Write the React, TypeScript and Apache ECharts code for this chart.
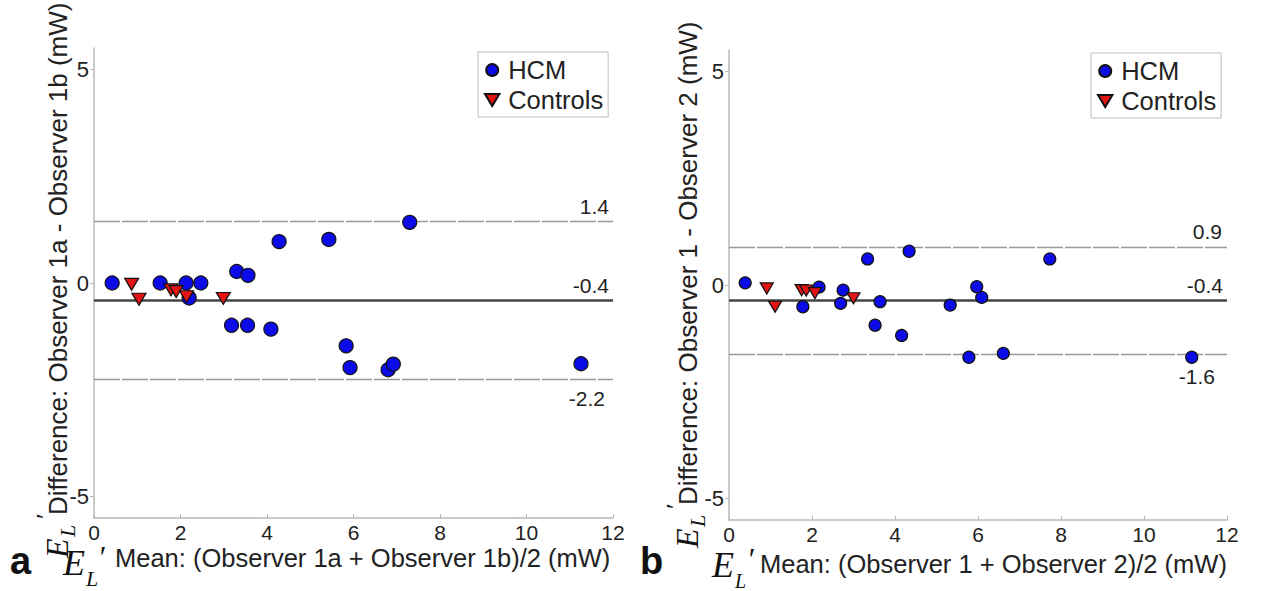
import React, { useEffect, useRef } from "react";
import * as echarts from "echarts";

// ---------- data ----------
const xTicks = [0, 2, 4, 6, 8, 10, 12];
const yTicks = [-5, 0, 5];
const seriesNames = ["HCM", "Controls"];

const leftHCM = [
  [0.42, 0.0], [1.53, 0.0], [2.13, 0.0], [2.47, 0.0], [2.2, -0.35],
  [3.3, 0.27], [3.56, 0.18], [4.28, 0.97], [5.43, 1.02], [7.3, 1.42],
  [3.18, -0.99], [3.55, -0.99], [4.09, -1.08], [5.83, -1.47], [5.92, -1.98],
  [6.8, -2.03], [6.92, -1.9], [11.26, -1.89],
];
const leftControls = [
  [0.87, -0.03], [1.04, -0.38], [1.78, -0.16], [1.9, -0.2], [2.14, -0.32], [2.99, -0.36],
];
const rightHCM = [
  [0.39, 0.05], [2.17, -0.05], [1.78, -0.51], [2.75, -0.12], [2.69, -0.43],
  [3.34, 0.61], [4.34, 0.79], [3.64, -0.39], [3.52, -0.94], [4.16, -1.18],
  [5.97, -0.04], [6.09, -0.29], [5.33, -0.47], [5.78, -1.69], [6.61, -1.6],
  [7.73, 0.61], [11.15, -1.69],
];
const rightControls = [
  [0.91, -0.08], [1.11, -0.51], [1.75, -0.12], [1.86, -0.13], [2.07, -0.19], [3.0, -0.31],
];

const leftLines = [1.44, -0.4, -2.26];
const leftLineLabels = ["1.4", "-0.4", "-2.2"];
const rightLines = [0.89, -0.35, -1.61];
const rightLineLabels = ["0.9", "-0.4", "-1.6"];

const leftXLabel = "Mean: (Observer 1a + Observer 1b)/2 (mW)";
const leftYLabel = "Difference: Observer 1a - Observer 1b (mW)";
const rightXLabel = "Mean: (Observer 1 + Observer 2)/2 (mW)";
const rightYLabel = "Difference: Observer 1 - Observer 2 (mW)";
const panelLetters = ["a", "b"];

// ---------- styles ----------
const FONT = "'Liberation Sans', Arial, sans-serif";
const SERIF = "'Liberation Serif', 'DejaVu Serif', serif";
const TEXT = "#222";
const AXIS = "#b8b8b8";
const TRI = "path://M0,0L12,0L6,10Z";

function scatter(name: string, data: number[][], idx: number, size: number) {
  const isHCM = name === seriesNames[0];
  return {
    type: "scatter",
    name,
    data,
    xAxisIndex: idx,
    yAxisIndex: idx,
    symbol: isHCM ? "circle" : TRI,
    symbolSize: isHCM ? size : [size, size * 0.85],
    itemStyle: {
      color: isHCM ? "#0b0be8" : "#e31414",
      borderColor: "#111",
      borderWidth: 1.2,
      opacity: 1,
    },
    z: isHCM ? 3 : 4,
    silent: true,
  };
}

function lineSeries(idx: number, values: number[], labels: string[], dists: number[]) {
  return {
    type: "scatter",
    name: "_limits" + idx,
    data: [],
    xAxisIndex: idx,
    yAxisIndex: idx,
    z: 1,
    markLine: {
      silent: true,
      symbol: ["none", "none"],
      z: 1,
      data: values.map((v, i) => ({
        yAxis: v,
        lineStyle:
          i === 1
            ? { color: "#454545", width: 2.5, type: "solid" }
            : { color: "#999999", width: 1.4, type: [26, 2] },
        label: {
          show: true,
          formatter: labels[i],
          position: i === 2 ? "insideEndBottom" : "insideEndTop",
          distance: dists[i],
          fontSize: 21,
          color: TEXT,
          fontFamily: FONT,
        },
      })),
    },
  };
}

function xAxis(idx: number) {
  return {
    type: "value",
    gridIndex: idx,
    min: 0,
    max: 12,
    axisLine: { show: true, onZero: false, lineStyle: { color: AXIS, width: 1.5 } },
    axisTick: { show: true, inside: true, length: 4, customValues: xTicks, lineStyle: { color: AXIS } },
    axisLabel: { customValues: xTicks, fontSize: 21, color: TEXT, margin: 4, fontFamily: FONT },
    splitLine: { show: false },
  };
}

function yAxis(idx: number) {
  return {
    type: "value",
    gridIndex: idx,
    min: -5.5,
    max: 5.5,
    axisLine: { show: true, onZero: false, lineStyle: { color: AXIS, width: 1.5 } },
    axisTick: { show: true, inside: false, length: 4, customValues: yTicks, lineStyle: { color: AXIS } },
    axisLabel: { customValues: yTicks, fontSize: 22, color: TEXT, margin: 5, fontFamily: FONT },
    splitLine: { show: false },
  };
}

function legend(left: number, top: number) {
  return {
    left,
    top,
    orient: "vertical",
    padding: [5, 5, 4, 6],
    itemGap: 4,
    itemWidth: 22,
    itemHeight: 12,
    borderColor: "#bdbdbd",
    borderWidth: 1,
    selectedMode: false,
    textStyle: { fontSize: 25.5, color: TEXT, fontFamily: FONT },
    data: [
      { name: seriesNames[0], icon: "circle" },
      { name: seriesNames[1], icon: TRI },
    ],
  };
}

function txt(x: number, y: number, text: string, fontSize: number, extra: any = {}) {
  return {
    type: "text",
    x,
    y,
    silent: true,
    style: {
      text,
      fontSize,
      fontFamily: FONT,
      fill: TEXT,
      align: "left",
      verticalAlign: "middle",
      ...extra,
    },
  };
}

function elGlyph(x: number, y: number, big: number, sub: number) {
  // E_L' (x, y = left / centre of the E)
  return [
    txt(x, y, "E", big, { fontFamily: SERIF, fontStyle: "italic", fill: "#111" }),
    txt(x + big * 0.64, y + big * 0.44, "L", sub, { fontFamily: SERIF, fontStyle: "italic", fill: "#111" }),
    txt(x + big * 1.02, y - big * 0.14, "\u2032", big * 0.85, { fontFamily: SERIF, fill: "#111" }),
  ];
}

function yName(x0: number, y0: number, label: string) {
  return {
    type: "group",
    x: x0,
    y: y0,
    rotation: Math.PI / 2,
    silent: true,
    children: [
      txt(0, 0, label, 26),
      txt(-43, -1, "E", 32, { fontFamily: SERIF, fontStyle: "italic", fill: "#111" }),
      txt(-22, 9, "L", 22, { fontFamily: SERIF, fontStyle: "italic", fill: "#111" }),
      txt(-4, -13, "\u2032", 26, { fontFamily: SERIF, fill: "#111" }),
    ],
  };
}

export default function App() {
  const ref = useRef<HTMLDivElement>(null);

  useEffect(() => {
    if (!ref.current) return;
    const chart = echarts.init(ref.current, undefined, { renderer: "svg" });
    chart.setOption({
      animation: false,
      backgroundColor: "#ffffff",
      textStyle: { fontFamily: FONT },
      grid: [
        { left: 94, top: 48, width: 519, height: 470, outerBoundsMode: "none" },
        { left: 729, top: 50, width: 498, height: 470, outerBoundsMode: "none" },
      ],
      xAxis: [xAxis(0), xAxis(1)],
      yAxis: [yAxis(0), yAxis(1)],
      legend: [legend(478, 52), legend(1091, 53)],
      series: [
        lineSeries(0, leftLines, leftLineLabels, [4, 4, 8]),
        lineSeries(1, rightLines, rightLineLabels, [5, 4, 12]),
        scatter(seriesNames[0], leftHCM, 0, 14),
        scatter(seriesNames[1], leftControls, 0, 14),
        scatter(seriesNames[0], rightHCM, 1, 12),
        scatter(seriesNames[1], rightControls, 1, 13),
      ],
      graphic: [
        txt(10, 561, panelLetters[0], 38, { fontWeight: "bold", fill: "#111" }),
        txt(640, 561, panelLetters[1], 38, { fontWeight: "bold", fill: "#111" }),
        txt(115, 558, leftXLabel, 25.5),
        txt(760, 564, rightXLabel, 25.5),
        ...elGlyph(63, 563, 36, 22),
        ...elGlyph(712, 565, 36, 20),
        yName(58, 515, leftYLabel),
        yName(688, 505, rightYLabel),
      ],
    });
    return () => chart.dispose();
  }, []);

  return (
    <div
      ref={ref}
      style={{ position: "fixed", left: 0, top: 0, width: 1262, height: 591, background: "#fff" }}
    />
  );
}
